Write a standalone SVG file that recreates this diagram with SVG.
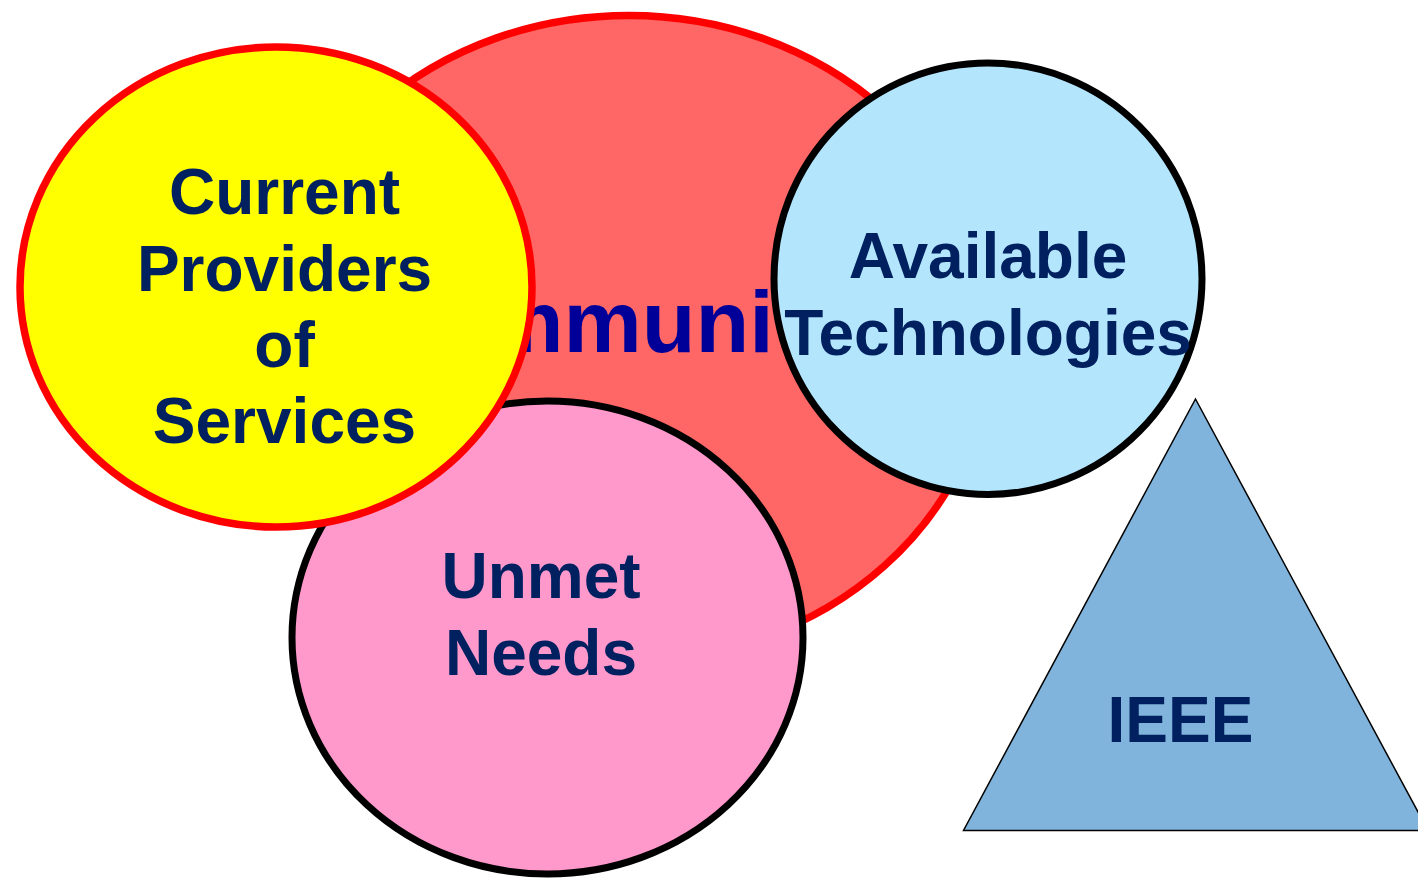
<svg xmlns="http://www.w3.org/2000/svg" width="1418" height="879" viewBox="0 0 1418 879">
  <style>
    .lbl { font-family: "Liberation Sans", Arial, sans-serif; font-weight: bold; font-size: 64px; fill: #002060; text-anchor: middle; }
    .big { font-family: "Liberation Sans", Arial, sans-serif; font-weight: bold; font-size: 88px; fill: #000099; }
    .redline { stroke: #ff0000; stroke-width: 7.5; }
    .blackline { stroke: #000000; stroke-width: 7; }
  </style>
  <rect width="1418" height="879" fill="#ffffff"/>
  <g id="community">
    <ellipse cx="629" cy="338" rx="361" ry="322.5" fill="#ff6666" class="redline"/>
    <text class="big" x="368" y="352">Community</text>
  </g>
  <g id="unmet-needs">
    <ellipse cx="547.5" cy="637.5" rx="255.5" ry="236.5" fill="#ff99cc" class="blackline"/>
    <text class="lbl" x="541" y="598">Unmet</text>
    <text class="lbl" x="541" y="675">Needs</text>
  </g>
  <g id="current-providers">
    <ellipse cx="276" cy="287" rx="256" ry="240" fill="#ffff00" class="redline"/>
    <text class="lbl" x="284.5" y="214">Current</text>
    <text class="lbl" x="284.5" y="291">Providers</text>
    <text class="lbl" x="284.5" y="367">of</text>
    <text class="lbl" x="284.5" y="443">Services</text>
  </g>
  <g id="available-technologies">
    <ellipse cx="988" cy="278.75" rx="214" ry="215.75" fill="#b3e5fc" class="blackline"/>
    <text class="lbl" x="988" y="278">Available</text>
    <text class="lbl" x="988" y="355">Technologies</text>
  </g>
  <g id="ieee">
    <polygon points="1195.5,399 1428,830.5 963.5,830.5" fill="#80b4dc" stroke="#000000" stroke-width="1.5" stroke-linejoin="miter"/>
    <text class="lbl" x="1180.5" y="742">IEEE</text>
  </g>
  <g id="connectors"/>
</svg>
